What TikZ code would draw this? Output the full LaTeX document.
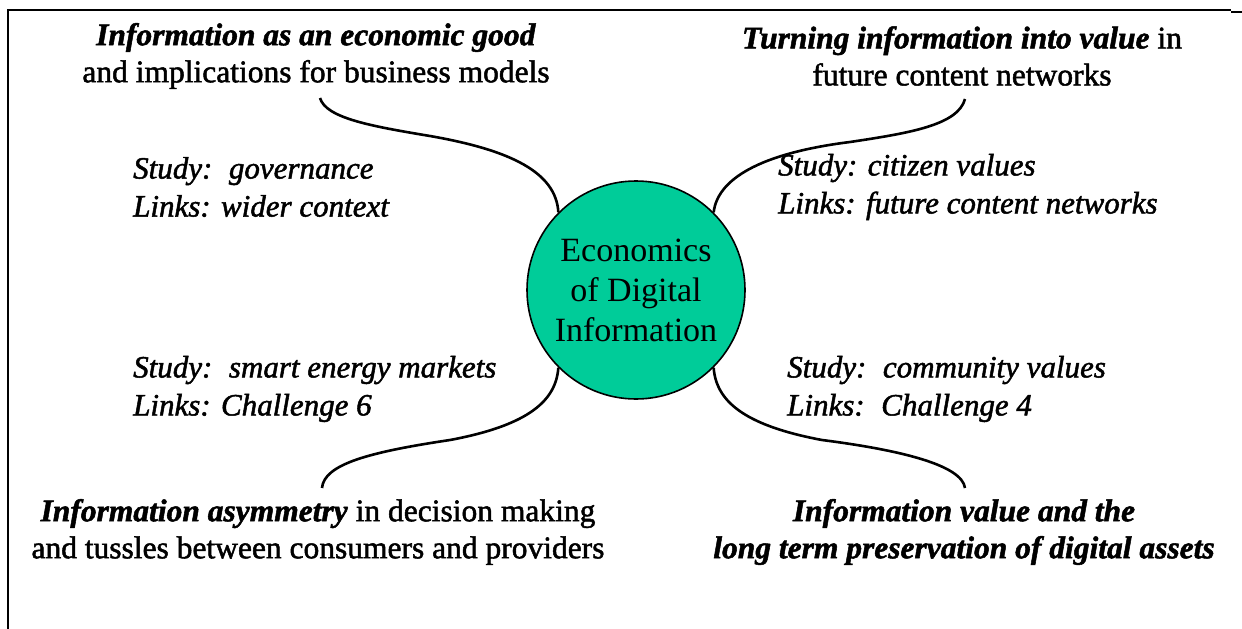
\documentclass[tikz,border=0pt]{standalone}
\usepackage{fontspec}
\setmainfont{Liberation Serif}[FakeBold=1.6]
\newfontfamily\plainfont{Liberation Serif}
\definecolor{tealfill}{RGB}{0,204,153}
\begin{document}
\begin{tikzpicture}[x=1pt,y=-1pt,
  titletext/.style={align=center,font=\fontsize{31.5}{37}\selectfont,inner sep=0pt},
  boldtitle/.style={align=center,font=\fontsize{31.5}{37}\selectfont\bfseries\itshape,inner sep=0pt},
  studytext/.style={align=left,anchor=west,font=\fontsize{31}{38}\selectfont\itshape,inner sep=0pt},
  link/.style={line width=2.6pt},
]
\useasboundingbox (0,0) rectangle (1242,629);
\draw[line width=1.6pt] (1231,10) -- (8,10);
\draw[line width=2.6pt] (8,9) -- (8,629);
\draw[line width=2.2pt] (1231,12) -- (1242,12);

\node[circle,draw,line width=1.6pt,fill=tealfill,minimum size=218pt,inner sep=0pt,
      align=center,font=\plainfont\fontsize{34}{40}\selectfont] (c) at (636,290)
      {Economics\\of Digital\\Information};

\node[titletext] (tl) at (316,56) {\textbf{\textit{Information as an economic good}}\\and implications for business models};
\node[titletext] (tr) at (962,56) {\textbf{\textit{Turning information into value}} in\\future content networks};
\node[titletext] (bl) at (318,532) {\textbf{\textit{Information asymmetry}} in decision making\\and tussles between consumers and providers};
\node[boldtitle] (br) at (964,532) {Information value and the\\long term preservation of digital assets};

\node[studytext] (s1) at (133,187) {Study:\hspace{0.2em} governance\\Links: wider context};
\node[studytext] (s2) at (778,187) {Study: citizen values\\Links: future content networks};
\node[studytext] (s3) at (133,389) {Study:\hspace{0.2em} smart energy markets\\Links: Challenge 6};
\node[studytext] (s4) at (787,389) {Study:\hspace{0.2em} community values\\Links:\hspace{0.2em} Challenge 4};

\coordinate (tlend) at (320,98);
\coordinate (trend) at (965,99);
\coordinate (blend) at (322,488);
\coordinate (brend) at (965,488);

\draw[link] (tlend) .. controls (326,118) and (370,126) .. (430,136)
  .. controls (510,150) and (556,172) .. (c.135);
\draw[link] (trend) .. controls (958,125) and (910,133) .. (850,142)
  .. controls (770,152) and (718,175) .. (c.45);
\draw[link] (c.225) .. controls (556,400) and (530,425) .. (450,440)
  .. controls (370,452) and (324,464) .. (blend);
\draw[link] (c.315) .. controls (716,400) and (742,425) .. (822,440)
  .. controls (900,450) and (962,465) .. (brend);
\end{tikzpicture}
\end{document}
